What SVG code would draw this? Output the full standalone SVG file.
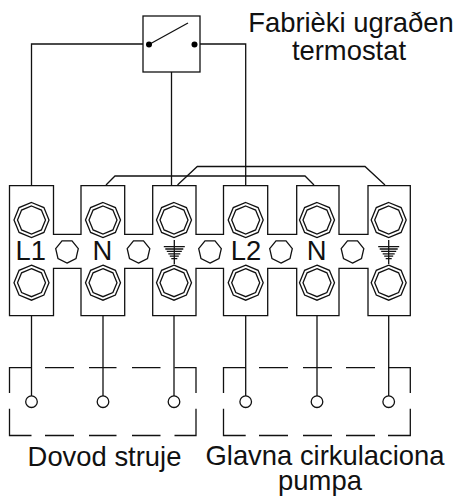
<svg xmlns="http://www.w3.org/2000/svg" width="456" height="497" viewBox="0 0 456 497">
<style>
.l{fill:none;stroke:#111;stroke-width:1.3}
.t{font-family:"Liberation Sans",Arial,sans-serif;font-size:27.4px;fill:#111;text-anchor:middle}
.w{fill:#fff;stroke:#111;stroke-width:1.3}
</style>
<defs>
<g id="oct"><polygon class="w" points="0,-17.5 12.4,-12.4 17.5,0 12.4,12.4 0,17.5 -12.4,12.4 -17.5,0 -12.4,-12.4"/><polygon class="w" points="0,-14 9.9,-9.9 14,0 9.9,9.9 0,14 -9.9,9.9 -14,0 -9.9,-9.9"/></g>
<polygon id="hole" class="w" points="0,11.8 9,7.3 11.3,-2.6 5,-10.4 -5,-10.4 -11.3,-2.6 -9,7.3"/>
<g id="gnd"><path class="l" d="M0,-12V12M-10.5,-5.3H10.5M-9,-3H9M-7.5,-0.6H7.5M-6,1.8H6M-4.5,4.2H4.5M-3,6.6H3"/></g>
</defs>
<g id="connectors" class="l">
<path d="M31.5,185.5V44H143"/>
<path d="M200,44H245.7V185.5"/>
<path d="M171.5,72V185.5"/>
<path d="M106,185L115,176H305L314,185"/>
<path d="M177.5,185L197.3,166.5H365L385,185"/>
<path d="M31.5,315.5V396M103,315.5V396M174,315.5V396M245.7,315.5V396M317,315.5V396M388.7,315.5V396"/>
</g>
<g id="switch">
<rect class="l" x="143" y="16" width="57" height="56"/>
<path class="l" d="M149,44.5L188,23"/>
<circle cx="149" cy="44.5" r="3" fill="#000"/>
<circle cx="194.5" cy="44.5" r="3" fill="#000"/>
</g>
<g id="terminal-block">
<path class="l" d="M9.5,185.7H53.5V234.3H81V185.7H124.7V234.3H152.7V185.7H196V234.3H223.5V185.7H267.7V234.3H296.7V185.7H339V234.3H368V185.7H410.3V315.7H368V268.3H339V315.7H296.7V268.3H267.7V315.7H223.5V268.3H196V315.7H152.7V268.3H124.7V315.7H81V268.3H53.5V315.7H9.5Z"/>
</g>
<g id="term-L1"><use href="#oct" x="31.5" y="220"/><use href="#oct" x="31.5" y="282.7"/><text class="t" x="30.7" y="260">L1</text></g>
<g id="term-N1"><use href="#oct" x="103" y="220"/><use href="#oct" x="103" y="282.7"/><text class="t" x="102.3" y="260">N</text></g>
<g id="term-PE1"><use href="#oct" x="174" y="220"/><use href="#oct" x="174" y="282.7"/><use href="#gnd" x="174.3" y="252"/></g>
<g id="term-L2"><use href="#oct" x="245.7" y="220"/><use href="#oct" x="245.7" y="282.7"/><text class="t" x="246" y="260">L2</text></g>
<g id="term-N2"><use href="#oct" x="317" y="220"/><use href="#oct" x="317" y="282.7"/><text class="t" x="316.7" y="260">N</text></g>
<g id="term-PE2"><use href="#oct" x="388.7" y="220"/><use href="#oct" x="388.7" y="282.7"/><use href="#gnd" x="388.7" y="252"/></g>
<g id="holes"><use href="#hole" x="67" y="251.3"/><use href="#hole" x="138.5" y="251.3"/><use href="#hole" x="210" y="251.3"/><use href="#hole" x="281" y="251.3"/><use href="#hole" x="352.5" y="251.3"/></g>
<g id="supply">
<path class="l" d="M9.5,393V367.7H31.5M45,367.7H74M89,367.7H116.5M132,367.7H160.5M174.5,367.7H196V393M196,408.7V435.5H174.5M160.5,435.5H132M116.5,435.5H89M74,435.5H45M31.5,435.5H9.5V408.7"/>
<circle class="w" cx="31.5" cy="401.7" r="5.8"/><circle class="w" cx="103" cy="401.7" r="5.8"/><circle class="w" cx="174" cy="401.7" r="5.8"/>
<text class="t" x="104.5" y="466">Dovod struje</text>
</g>
<g id="pump">
<path class="l" d="M223.5,393V367.7H245.7M259,367.7H288M303,367.7H332M346,367.7H375M388,367.7H410.3V393M410.3,408.7V435.5H388M375,435.5H346M332,435.5H303M288,435.5H259M245.7,435.5H223.5V408.7"/>
<circle class="w" cx="245.7" cy="401.7" r="5.8"/><circle class="w" cx="317" cy="401.7" r="5.8"/><circle class="w" cx="388.7" cy="401.7" r="5.8"/>
<text class="t" x="325" y="465">Glavna cirkulaciona</text>
<text class="t" x="320" y="490">pumpa</text>
</g>
<g id="label"><text class="t" x="351" y="32">Fabrièki ugraðen</text><text class="t" x="349" y="60">termostat</text></g>
</svg>
